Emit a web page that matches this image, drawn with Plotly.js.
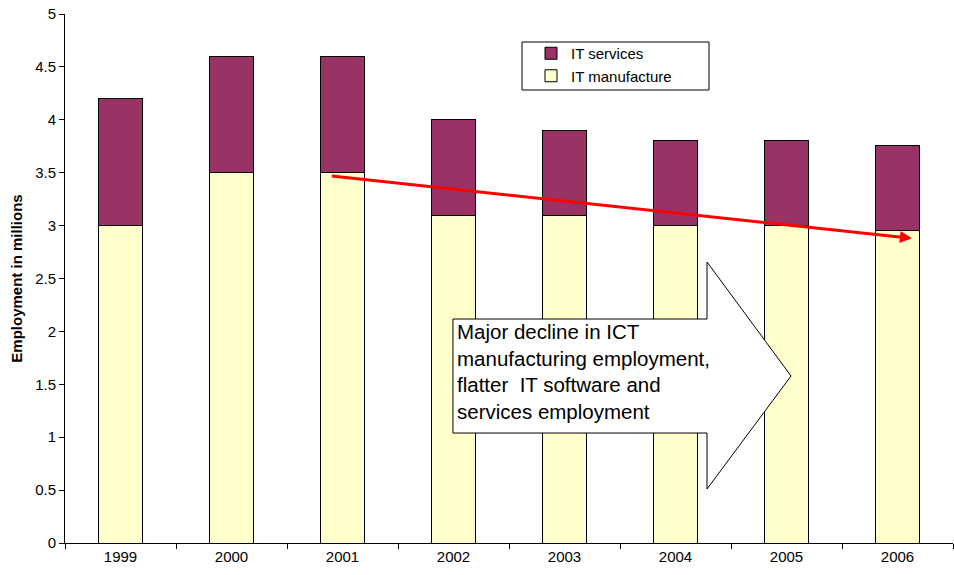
<!DOCTYPE html>
<html><head><meta charset="utf-8">
<script src="https://cdn.plot.ly/plotly-3.0.1.min.js"></script>
<style>html,body{margin:0;padding:0;background:#fff}</style>
</head><body><div id="chart" style="width:954px;height:575px"></div>
<script>
const years = ["1999","2000","2001","2002","2003","2004","2005","2006"];
const itManufacture = [3.0, 3.5, 3.5, 3.1, 3.1, 3.0, 3.0, 2.95];
const itServices = [1.2, 1.1, 1.1, 0.9, 0.8, 0.8, 0.8, 0.81];
const yTicks = [0,0.5,1,1.5,2,2.5,3,3.5,4,4.5,5];
const yTickText = ["0","0.5","1","1.5","2","2.5","3","3.5","4","4.5","5"];
const noteText = "Major decline in ICT<br>manufacturing employment,<br>flatter  IT software and<br>services employment";

const font = "Liberation Sans, Arial, sans-serif";
const traces = [
  {type:"bar", name:"IT manufacture", x:years, y:itManufacture,
   marker:{color:"#FFFFCC", line:{color:"#000", width:1}}},
  {type:"bar", name:"IT services", x:years, y:itServices,
   marker:{color:"#993366", line:{color:"#000", width:1}}}
];
function px2paperX(p){return (p-65)/888;}
function px2paperY(p){return (543-p)/529;}
const pts = [[453,319],[707,319],[707,262],[791,376],[707,489],[707,433],[453,433]];
const path = "M " + pts.map(p=>px2paperX(p[0]).toFixed(4)+","+px2paperY(p[1]).toFixed(4)).join(" L ") + " Z";

const layout = {
  width:954, height:575,
  margin:{l:65, r:1, t:14, b:32},
  barmode:"stack", bargap:0.6,
  paper_bgcolor:"#fff", plot_bgcolor:"#fff",
  font:{family:font, size:15, color:"#000"},
  showlegend:true,
  legend:{x:px2paperX(531), y:px2paperY(37), xanchor:"left", yanchor:"top",
    traceorder:"reversed", borderwidth:0, bgcolor:"rgba(0,0,0,0)",
    font:{family:font, size:15}, itemwidth:30, tracegroupgap:0},
  xaxis:{type:"category", showline:true, linecolor:"#000", linewidth:1,
    ticks:"outside", tickson:"boundaries", ticklen:5, tickcolor:"#000",
    showgrid:false, tickfont:{size:15}, range:[-0.5,7.5], fixedrange:true},
  yaxis:{range:[0,5], tickvals:yTicks, ticktext:yTickText, showline:true,
    linecolor:"#000", linewidth:1, ticks:"outside", ticklen:5, tickcolor:"#000",
    showgrid:false, zeroline:false, tickfont:{size:15},
    title:{text:"<b>Employment in millions</b>", font:{size:15}, standoff:8}},
  shapes:[
    {type:"rect", xref:"paper", yref:"paper", x0:px2paperX(522), x1:px2paperX(709),
     y0:px2paperY(42), y1:px2paperY(90), fillcolor:"#fff", line:{color:"#000", width:1}, layer:"above"},
    {type:"path", xref:"paper", yref:"paper", path:path,
    fillcolor:"#fff", line:{color:"#000", width:1}, layer:"above"}],
  annotations:[
    {xref:"x", yref:"y", axref:"x", ayref:"y", x:7.13, y:2.88, ax:1.89, ay:3.47,
     showarrow:true, arrowcolor:"#FF0000", arrowwidth:3, arrowhead:2, arrowsize:0.8, text:""},
    {xref:"paper", yref:"paper", x:px2paperX(455), y:px2paperY(318), xanchor:"left", yanchor:"top",
     align:"left", showarrow:false, text:noteText, font:{family:font, size:20.5, color:"#000"}}
  ]
};
Plotly.newPlot("chart", traces, layout, {displayModeBar:false, staticPlot:true});
</script></body></html>
